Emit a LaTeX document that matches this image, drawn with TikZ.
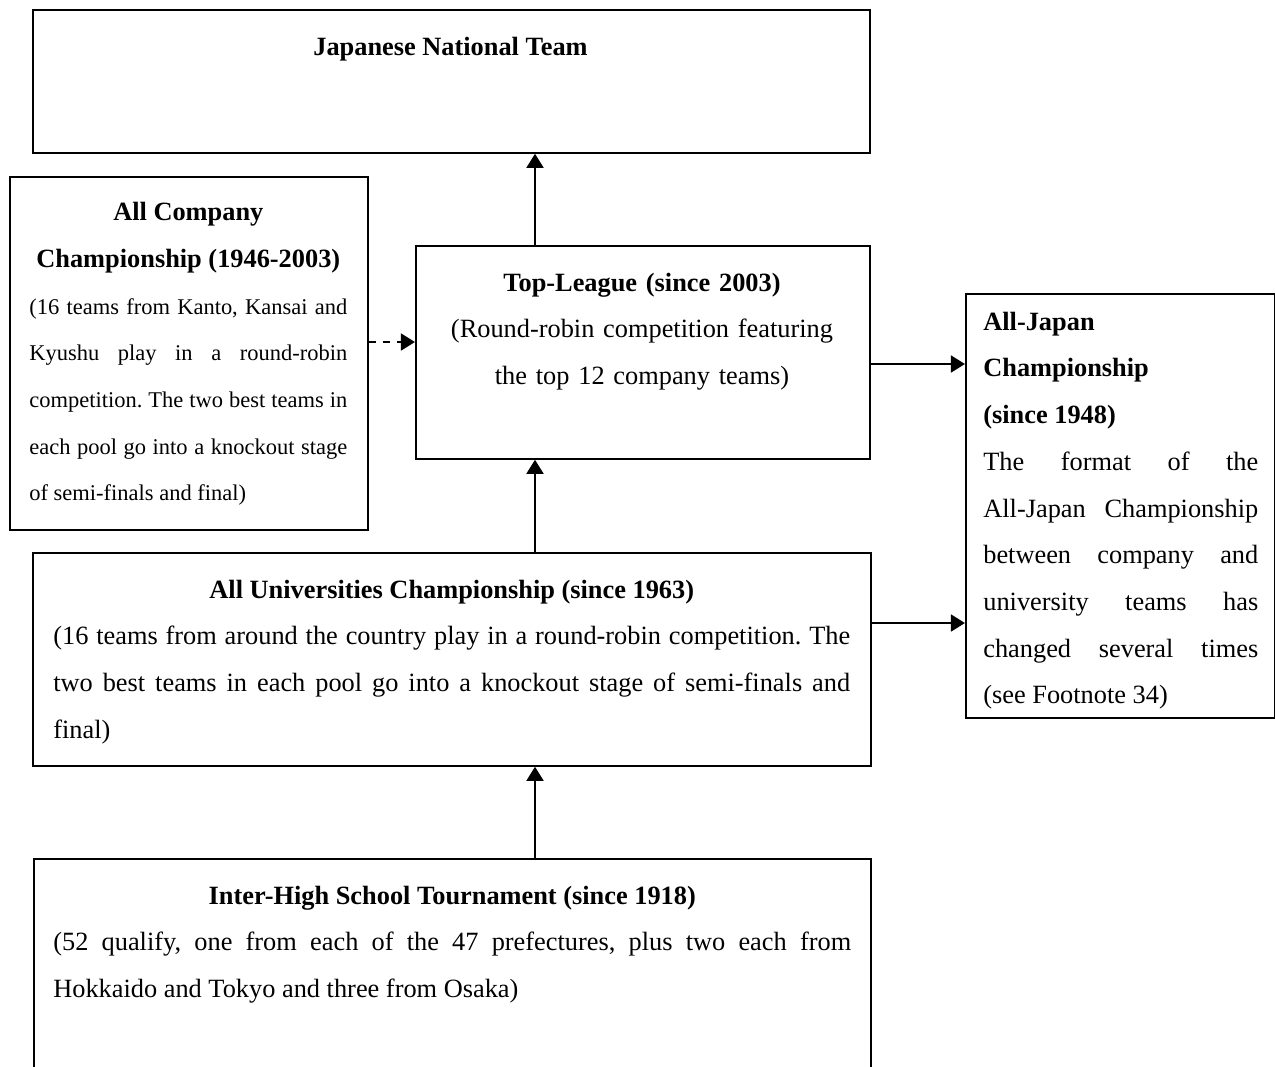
\documentclass[tikz,border=0pt]{standalone}
\usepackage{fontspec}
\setmainfont{Liberation Serif}
\usetikzlibrary{arrows.meta,positioning}
\newcommand{\bodytxt}{\fontsize{15}{26.6}\selectfont}
\newcommand{\smalltxt}{\fontsize{12.8}{26.6}\selectfont}
\tikzset{
  box/.style={draw, line width=1pt, inner sep=0pt, anchor=north west},
  lbl/.style={inner sep=0pt, anchor=north, align=center},
  para/.style={inner sep=0pt, anchor=north west, align=justify},
  arr/.style={line width=1.5pt, -{Triangle[length=8pt,width=9.5pt]}},
  dasharr/.style={arr, dash pattern=on 4pt off 4pt}
}
\begin{document}
\begin{tikzpicture}[x=0.02cm,y=-0.02cm]
\useasboundingbox (0,0) rectangle (1275,1066);
\frenchspacing
\node[box, minimum width=16.74cm, minimum height=2.86cm] (nat) at (32,9) {};
\node[box, minimum width=7.16cm, minimum height=7.06cm] (comp) at (9,176) {};
\node[box, minimum width=9.08cm, minimum height=4.26cm] (top) at (415,245) {};
\node[box, minimum width=6.18cm, minimum height=8.48cm] (japan) at (965,293) {};
\node[box, minimum width=16.76cm, minimum height=4.26cm] (univ) at (32,552) {};
\node[box, minimum width=16.74cm, minimum height=4.4cm] (high) at (33,858) {};

\node[lbl, font=\bodytxt\bfseries] (natT) at (450.5,22) {\strut Japanese National Team};
\node[lbl, text width=8.5cm, font=\bodytxt] (topT) at (642,258)
  {\strut\textbf{Top-League (since 2003)}\\(Round-robin competition featuring\\the top 12 company teams)};
\node[para, text width=6.36cm, font=\smalltxt] (compT) at (29,187.5)
  {{\centering\bodytxt\bfseries\strut All Company\par Championship (1946-2003)\par}%
  (16 teams from Kanto, Kansai and\linebreak Kyushu play in a round-robin\linebreak
  competition. The two best teams in\linebreak each pool go into a knockout stage\linebreak
  of semi-finals and final)};
\node[para, text width=5.5cm, font=\bodytxt] (japanT) at (983,297)
  {{\bfseries\strut All-Japan\par Championship\par (since 1948)\par}%
  The format of the\linebreak All-Japan Championship\linebreak between company and\linebreak
  university teams has\linebreak changed several times\linebreak (see Footnote 34)};
\node[para, text width=15.94cm, font=\bodytxt] (univT) at (53,565)
  {{\centering\bfseries\strut All Universities Championship (since 1963)\par}%
  (16 teams from around the country play in a round-robin competition. The\linebreak
  two best teams in each pool go into a knockout stage of semi-finals and\linebreak final)};
\node[para, text width=15.96cm, font=\bodytxt] (highT) at (53,871)
  {{\centering\bfseries\strut Inter-High School Tournament (since 1918)\par}%
  (52 qualify, one from each of the 47 prefectures, plus two each from\linebreak
  Hokkaido and Tokyo and three from Osaka)};

\coordinate (spine) at (535,0);
\coordinate (dashY) at (0,342);
\coordinate (topY) at (0,364);
\coordinate (univY) at (0,623);
\draw[arr] (top.north -| spine) -- (nat.south -| spine);
\draw[arr] (univ.north -| spine) -- (top.south -| spine);
\draw[arr] (high.north -| spine) -- (univ.south -| spine);
\draw[dasharr] (comp.east |- dashY) -- (top.west |- dashY);
\draw[arr] (top.east |- topY) -- (japan.west |- topY);
\draw[arr] (univ.east |- univY) -- (japan.west |- univY);
\end{tikzpicture}
\end{document}
